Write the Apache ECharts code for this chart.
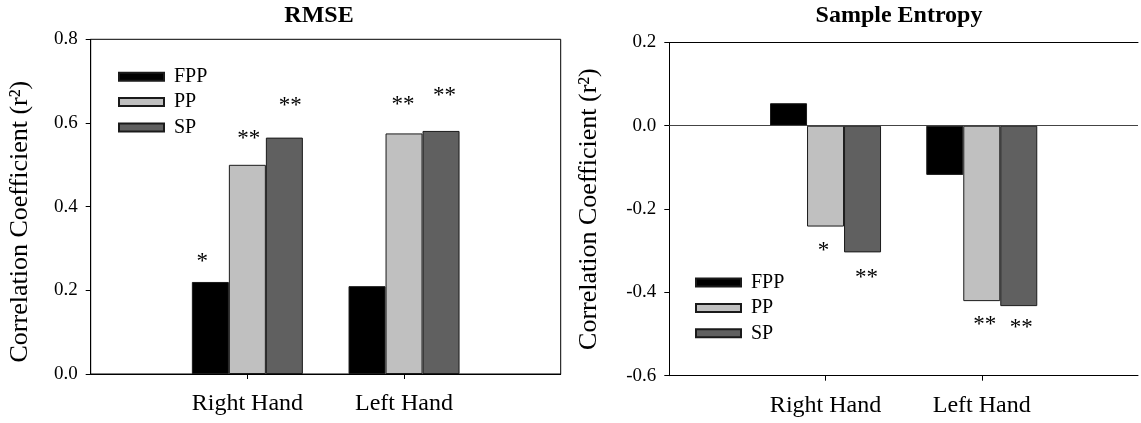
<!DOCTYPE html>
<html>
<head>
<meta charset="utf-8">
<script src="https://cdn.jsdelivr.net/npm/echarts@6/dist/echarts.min.js"></script>
<style>
  html, body { margin: 0; padding: 0; background: #fff; }
  #chart { width: 1141px; height: 423px; }
</style>
</head>
<body>
<div id="chart"></div>
<script>
const categories = ['Right Hand', 'Left Hand']
const groups = ['FPP', 'PP', 'SP']

// RMSE panel
const rmseFPP = [0.22, 0.21]
const rmsePP = [0.50, 0.575]
const rmseSP = [0.565, 0.581]
const rmseStarsFPP = ['*', '']
const rmseStarsPP = ['**', '**']
const rmseStarsSP = ['**', '**']
const rmseTicks = [0, 0.2, 0.4, 0.6, 0.8]

// Sample Entropy panel
const entFPP = [0.054, -0.118]
const entPP = [-0.242, -0.421]
const entSP = [-0.304, -0.433]
const entStarsFPP = ['', '']
const entStarsPP = ['*', '**']
const entStarsSP = ['**', '**']
const entTicks = [-0.6, -0.4, -0.2, 0, 0.2]

const FONT = '"Liberation Serif", "Times New Roman", serif'
const colors = { FPP: '#000000', PP: '#c0c0c0', SP: '#606060' }

// where the asterisks sit relative to each bar: [distance, dx]
const rmseStarPlace = {
  FPP: [[9, -8], [0, 0]],
  PP: [[14.5, 1.5], [17, -1]],
  SP: [[20.5, 6], [23.5, 3.5]]
}
const entStarPlace = {
  FPP: [[0, 0], [0, 0]],
  PP: [[12.5, -2], [12, 3]],
  SP: [[14.5, 4], [10.5, 2.5]]
}

const chart = echarts.init(document.getElementById('chart'))

function makeSeries(name, panel, values, stars, place) {
  return {
    name,
    type: 'bar',
    xAxisIndex: panel,
    yAxisIndex: panel,
    barWidth: 37,
    barGap: '0%',
    itemStyle: { color: colors[name], borderColor: '#1a1a1a', borderWidth: 1 },
    label: { fontFamily: FONT, fontSize: 23, color: '#000' },
    data: ['-'].concat(values.map((v, i) => ({
      value: v,
      label: {
        show: !!stars[i],
        formatter: stars[i] || '',
        position: v >= 0 ? 'top' : 'bottom',
        distance: place[i][0],
        offset: [place[i][1], 0]
      }
    })), ['-'])
  }
}

function xAxisFor(panel) {
  return {
    gridIndex: panel,
    type: 'category',
    data: [''].concat(categories, ['']),
    boundaryGap: false,
    axisLine: { onZero: false, lineStyle: { color: '#000', width: 1 } },
    axisTick: {
      interval: (i) => i === 1 || i === 2,
      length: 5,
      lineStyle: { color: '#000' }
    },
    axisLabel: { interval: 0, fontFamily: FONT, fontSize: 24, color: '#000', margin: 18 },
    splitLine: { show: false }
  }
}

// plain line along the top of a panel (the right panel's frame is cut off at the image edge)
function topEdgeFor(panel) {
  return {
    gridIndex: panel,
    type: 'category',
    position: 'top',
    data: [''].concat(categories, ['']),
    boundaryGap: false,
    axisLine: { onZero: false, lineStyle: { color: '#000', width: 1 } },
    axisTick: { show: false },
    axisLabel: { show: false },
    splitLine: { show: false }
  }
}

function yAxisFor(panel, ticks, nameGap, namePadding) {
  return {
    gridIndex: panel,
    type: 'value',
    min: ticks[0],
    max: ticks[ticks.length - 1],
    interval: 0.2,
    axisLine: { show: true, lineStyle: { color: '#000', width: 1 } },
    axisTick: { show: true, length: 5, lineStyle: { color: '#000' } },
    axisLabel: {
      fontFamily: FONT, fontSize: 19, color: '#000', margin: 13,
      formatter: (v) => Math.abs(v) < 1e-9 ? '0.0' : v.toFixed(1)
    },
    splitLine: { show: false },
    name: 'Correlation Coefficient (r²)',
    nameLocation: 'middle',
    nameGap: nameGap,
    nameTextStyle: { fontFamily: FONT, fontSize: 26, color: '#000', padding: namePadding }
  }
}

function legendFor(left, top) {
  return {
    data: groups,
    orient: 'vertical',
    left, top,
    padding: 0,
    icon: 'rect',
    itemWidth: 45,
    itemHeight: 8,
    itemGap: 5.4,
    selectedMode: false,
    textStyle: { fontFamily: FONT, fontSize: 20, lineHeight: 20, color: '#000', padding: [0, 0, 0, 5] }
  }
}

const entFPPSeries = makeSeries('FPP', 1, entFPP, entStarsFPP, entStarPlace.FPP)
entFPPSeries.markLine = {
  silent: true,
  symbol: 'none',
  label: { show: false },
  lineStyle: { color: '#444', type: 'solid', width: 1 },
  data: [{ yAxis: 0 }]
}

const option = {
  animation: false,
  backgroundColor: '#fff',
  title: [
    { text: 'RMSE', left: 319, top: 4, textAlign: 'center', padding: 0,
      textStyle: { fontFamily: FONT, fontSize: 24, fontWeight: 'bold', color: '#000' } },
    { text: 'Sample Entropy', left: 899, top: 4, textAlign: 'center', padding: 0,
      textStyle: { fontFamily: FONT, fontSize: 24, fontWeight: 'bold', color: '#000' } }
  ],
  legend: [legendFor(118, 66.7), legendFor(695, 272.5)],
  grid: [
    { left: 90.7, top: 39.3, width: 470, height: 334.7, show: true, borderColor: '#000', borderWidth: 1 },
    { left: 669.3, top: 42.4, right: 0, height: 333.3, show: false }
  ],
  xAxis: [xAxisFor(0), xAxisFor(1), topEdgeFor(1)],
  yAxis: [
    yAxisFor(0, rmseTicks, 57.5, [0, 30, 0, 0]),
    yAxisFor(1, entTicks, 67, 0)
  ],
  series: [
    makeSeries('FPP', 0, rmseFPP, rmseStarsFPP, rmseStarPlace.FPP),
    makeSeries('PP', 0, rmsePP, rmseStarsPP, rmseStarPlace.PP),
    makeSeries('SP', 0, rmseSP, rmseStarsSP, rmseStarPlace.SP),
    entFPPSeries,
    makeSeries('PP', 1, entPP, entStarsPP, entStarPlace.PP),
    makeSeries('SP', 1, entSP, entStarsSP, entStarPlace.SP)
  ]
}

chart.setOption(option)

window.addEventListener('resize', () => chart.resize())
</script>
</body>
</html>
